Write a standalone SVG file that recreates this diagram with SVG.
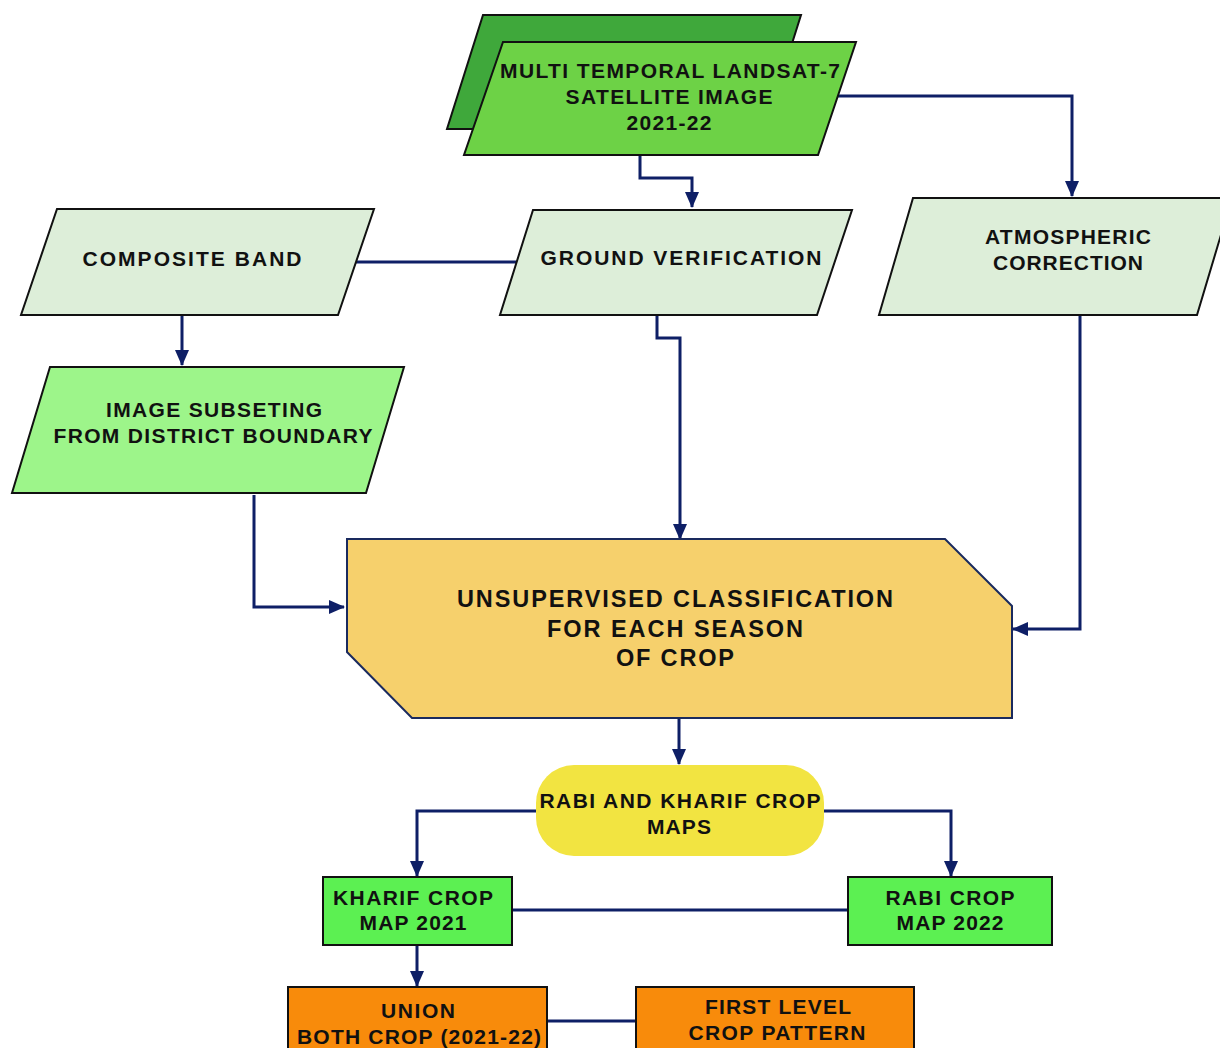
<svg xmlns="http://www.w3.org/2000/svg" width="1220" height="1048" viewBox="0 0 1220 1048">
<defs>
<marker id="arr" markerUnits="userSpaceOnUse" markerWidth="16" markerHeight="14" viewBox="0 0 16 14" refX="15" refY="7" orient="auto">
<path d="M0,0 L16,7 L0,14 Z" fill="#0E1F66"/>
</marker>
<style>
.lbl{font-family:"Liberation Sans",Arial,sans-serif;font-weight:bold;font-size:21px;fill:#111;text-anchor:middle}
.big{font-size:23.5px}
.node{stroke:#111;stroke-width:2}
.con{fill:none;stroke:#0E1F66;stroke-width:3}
</style>
</defs>
<rect width="1220" height="1048" fill="#fff"/>
<g id="connectors">
<path class="con" d="M640,155 V178 H692 V207" marker-end="url(#arr)"/>
<path class="con" d="M838,96 H1072 V196" marker-end="url(#arr)"/>
<path class="con" d="M356,262 H516"/>
<path class="con" d="M182,315 V365" marker-end="url(#arr)"/>
<path class="con" d="M657,315 V338 H680 V539" marker-end="url(#arr)"/>
<path class="con" d="M254,495 V607 H344" marker-end="url(#arr)"/>
<path class="con" d="M1080,315 V629 H1013" marker-end="url(#arr)"/>
<path class="con" d="M679,718 V764" marker-end="url(#arr)"/>
<path class="con" d="M536,811 H417 V876" marker-end="url(#arr)"/>
<path class="con" d="M824,811 H951 V876" marker-end="url(#arr)"/>
<path class="con" d="M512,910 H848"/>
<path class="con" d="M417,945 V986" marker-end="url(#arr)"/>
<path class="con" d="M547,1021 H636"/>
</g>
<g id="satellite">
<polygon class="node" points="483,15 801,15 765,129 447,129" fill="#3FA83B"/>
<polygon class="node" points="503,42 856,42 818,155 464,155" fill="#6DD246"/>
<text class="lbl" x="670" y="78" textLength="340" lengthAdjust="spacing">MULTI TEMPORAL LANDSAT-7</text>
<text class="lbl" x="669" y="104" textLength="207" lengthAdjust="spacing">SATELLITE IMAGE</text>
<text class="lbl" x="669" y="130" textLength="85" lengthAdjust="spacing">2021-22</text>
</g>
<g id="composite">
<polygon class="node" points="57,209 374,209 338,315 21,315" fill="#DDEED9"/>
<text class="lbl" x="192" y="266" textLength="219" lengthAdjust="spacing">COMPOSITE BAND</text>
</g>
<g id="ground">
<polygon class="node" points="533,210 852,210 817,315 500,315" fill="#DDEED9"/>
<text class="lbl" x="681" y="265" textLength="281" lengthAdjust="spacing">GROUND VERIFICATION</text>
</g>
<g id="atmospheric">
<polygon class="node" points="913,198 1232,198 1197,315 879,315" fill="#DDEED9"/>
<text class="lbl" x="1068" y="244" textLength="166" lengthAdjust="spacing">ATMOSPHERIC</text>
<text class="lbl" x="1068" y="270" textLength="150" lengthAdjust="spacing">CORRECTION</text>
</g>
<g id="subset">
<polygon class="node" points="50,367 404,367 366,493 12,493" fill="#9DF58A"/>
<text class="lbl" x="214" y="417" textLength="216" lengthAdjust="spacing">IMAGE SUBSETING</text>
<text class="lbl" x="213" y="443" textLength="319" lengthAdjust="spacing">FROM DISTRICT BOUNDARY</text>
</g>
<g id="classification">
<polygon points="347,539 945,539 1012,606 1012,718 412,718 347,652" fill="#F6D06C" stroke="#1A2A5E" stroke-width="2"/>
<text class="lbl big" x="675" y="607" textLength="436" lengthAdjust="spacing">UNSUPERVISED CLASSIFICATION</text>
<text class="lbl big" x="675" y="637" textLength="256" lengthAdjust="spacing">FOR EACH SEASON</text>
<text class="lbl big" x="675" y="666" textLength="118" lengthAdjust="spacing">OF CROP</text>
</g>
<g id="maps">
<rect x="536" y="765" width="288" height="91" rx="38" ry="38" fill="#F2E441"/>
<text class="lbl" x="680" y="808" textLength="281" lengthAdjust="spacing">RABI AND KHARIF CROP</text>
<text class="lbl" x="679" y="834" textLength="64" lengthAdjust="spacing">MAPS</text>
</g>
<g id="kharif">
<rect class="node" x="323" y="877" width="189" height="68" fill="#5CF052"/>
<text class="lbl" x="413" y="905" textLength="160" lengthAdjust="spacing">KHARIF CROP</text>
<text class="lbl" x="413" y="930" textLength="107" lengthAdjust="spacing">MAP 2021</text>
</g>
<g id="rabi">
<rect class="node" x="848" y="877" width="204" height="68" fill="#5CF052"/>
<text class="lbl" x="950" y="905" textLength="129" lengthAdjust="spacing">RABI CROP</text>
<text class="lbl" x="950" y="930" textLength="107" lengthAdjust="spacing">MAP 2022</text>
</g>
<g id="union">
<rect class="node" x="288" y="987" width="259" height="70" fill="#F88B0B"/>
<text class="lbl" x="418" y="1018" textLength="74" lengthAdjust="spacing">UNION</text>
<text class="lbl" x="419" y="1044" textLength="244" lengthAdjust="spacing">BOTH CROP (2021-22)</text>
</g>
<g id="pattern">
<rect class="node" x="636" y="987" width="278" height="70" fill="#F88B0B"/>
<text class="lbl" x="778" y="1014" textLength="146" lengthAdjust="spacing">FIRST LEVEL</text>
<text class="lbl" x="777" y="1040" textLength="177" lengthAdjust="spacing">CROP PATTERN</text>
</g>
</svg>
